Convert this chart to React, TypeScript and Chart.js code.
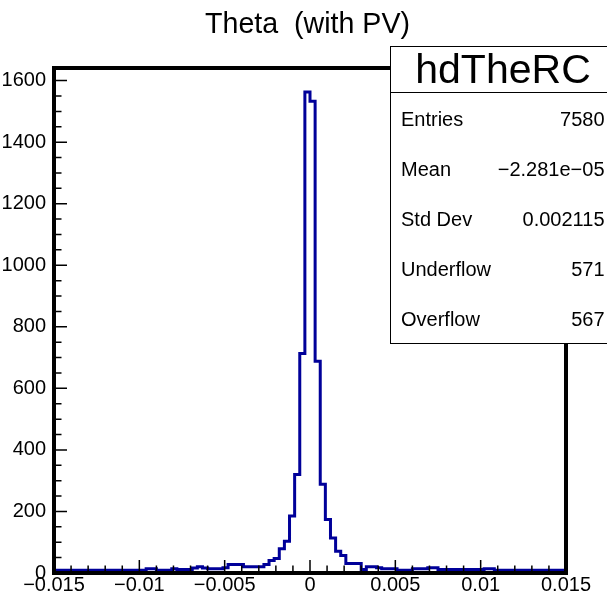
import React, { useEffect, useRef } from "react";
import { Chart, registerables } from "chart.js";

Chart.register(...registerables);

// ---- data ----
const X_MIN = -0.015;
const X_MAX = 0.015;
const BIN_WIDTH = 0.0003;
const Y_MAX = 1641;

const binCounts: number[] = [
  9, 9, 9, 9, 9, 9, 9, 9, 9, 9,
  9, 9, 9, 9, 9, 9, 9, 9, 14, 14,
  9, 9, 9, 14, 11, 11, 11, 16, 20, 16,
  14, 14, 14, 17, 28, 28, 28, 20, 20, 20,
  20, 28, 41, 47, 79, 103, 185, 320, 713, 1563,
  1533, 688, 288, 174, 114, 71, 57, 31, 31, 31,
  11, 20, 20, 17, 14, 14, 14, 9, 9, 9,
  14, 14, 14, 17, 17, 11, 11, 11, 11, 11,
  11, 11, 11, 11, 14, 14, 9, 9, 9, 9,
  9, 9, 9, 9, 9, 9, 9, 9, 9, 9,
];

const xTickValues: number[] = [-0.015, -0.01, -0.005, 0, 0.005, 0.01, 0.015];
const xTickLabels: string[] = ["\u22120.015", "\u22120.01", "\u22120.005", "0", "0.005", "0.01", "0.015"];
const yTickValues: number[] = [0, 200, 400, 600, 800, 1000, 1200, 1400, 1600];
const yTickLabels: string[] = ["0", "200", "400", "600", "800", "1000", "1200", "1400", "1600"];

const titleText = "Theta  (with PV)";
const statsName = "hdTheRC";
const statsLabels: string[] = ["Entries", "Mean", "Std Dev", "Underflow", "Overflow"];
const statsValues: string[] = ["7580", "\u22122.281e\u221205", "0.002115", "571", "567"];

const FONT = '"Liberation Sans", Arial, Helvetica, sans-serif';

const rootPlugin = {
  id: "rootStyle",
  afterDatasetsDraw(chart: any) {
    const ctx = chart.ctx as CanvasRenderingContext2D;
    const xs = chart.scales.x;
    const ys = chart.scales.y;
    const L = xs.getPixelForValue(X_MIN);
    const R = xs.getPixelForValue(X_MAX);
    const B = ys.getPixelForValue(0);
    const T = ys.getPixelForValue(Y_MAX);
    ctx.save();
    // ticks
    ctx.strokeStyle = "#000";
    ctx.lineWidth = 1.5;
    ctx.beginPath();
    for (let i = 0; i <= 30; i++) {
      const v = X_MIN + i * 0.001;
      const px = xs.getPixelForValue(v);
      const len = i % 5 === 0 ? 13 : 7.5;
      ctx.moveTo(px, B);
      ctx.lineTo(px, B - len);
    }
    for (let v = 0; v <= Y_MAX; v += 50) {
      const py = ys.getPixelForValue(v);
      const len = v % 200 === 0 ? 13 : 7.5;
      ctx.moveTo(L, py);
      ctx.lineTo(L + len, py);
    }
    ctx.stroke();
    // frame
    ctx.lineWidth = 4;
    ctx.strokeRect(L, T, R - L, B - T);
    // title
    ctx.fillStyle = "#000";
    ctx.font = `28.6px ${FONT}`;
    ctx.textAlign = "center";
    ctx.textBaseline = "alphabetic";
    ctx.fillText(titleText, 307.5, 33);
    // stats box
    const bx = 390.5, by = 46.5, bw = 230, bh = 297;
    ctx.fillStyle = "#fff";
    ctx.fillRect(bx, by, bw, bh);
    ctx.strokeStyle = "#000";
    ctx.lineWidth = 1;
    ctx.strokeRect(bx, by, bw, bh);
    ctx.beginPath();
    ctx.moveTo(bx, 92.5);
    ctx.lineTo(bx + bw, 92.5);
    ctx.stroke();
    ctx.fillStyle = "#000";
    ctx.font = `41px ${FONT}`;
    ctx.textAlign = "center";
    ctx.fillText(statsName, 503, 83);
    ctx.font = `20px ${FONT}`;
    for (let i = 0; i < statsLabels.length; i++) {
      const yb = 126 + i * 50;
      ctx.textAlign = "left";
      ctx.fillText(statsLabels[i], 401, yb);
      ctx.textAlign = "right";
      ctx.fillText(statsValues[i], 604.5, yb);
    }
    ctx.restore();
  },
};

export default function App() {
  const ref = useRef<HTMLCanvasElement | null>(null);
  useEffect(() => {
    document.body.style.margin = "0";
    const points = binCounts.map((c, i) => ({ x: X_MIN + i * BIN_WIDTH, y: c }));
    points.push({ x: X_MAX, y: binCounts[binCounts.length - 1] });
    const chart = new Chart(ref.current as HTMLCanvasElement, {
      type: "line",
      data: {
        datasets: [
          {
            data: points,
            borderColor: "#000099",
            borderWidth: 3,
            stepped: "before",
            pointRadius: 0,
            fill: false,
            tension: 0,
          },
        ],
      },
      options: {
        responsive: false,
        animation: false,
        devicePixelRatio: 1,
        layout: { padding: { left: 0, right: 41, top: 68, bottom: 0 } },
        plugins: { legend: { display: false }, tooltip: { enabled: false }, title: { display: false } },
        scales: {
          x: {
            type: "linear",
            min: X_MIN,
            max: X_MAX,
            grid: { display: false, drawTicks: false },
            border: { display: false },
            afterFit: (s: any) => { s.height = 24; },
            afterBuildTicks: (s: any) => { s.ticks = xTickValues.map((v) => ({ value: v })); },
            ticks: {
              autoSkip: false,
              maxRotation: 0,
              padding: 0,
              color: "#000",
              font: { family: FONT, size: 20 },
              callback: (_v: any, i: number) => xTickLabels[i],
            },
          },
          y: {
            type: "linear",
            min: 0,
            max: Y_MAX,
            grid: { display: false, drawTicks: false },
            border: { display: false },
            afterFit: (s: any) => { s.width = 54; },
            afterBuildTicks: (s: any) => { s.ticks = yTickValues.map((v) => ({ value: v })); },
            ticks: {
              autoSkip: false,
              padding: 8,
              color: "#000",
              font: { family: FONT, size: 20 },
              callback: (_v: any, i: number) => yTickLabels[i],
            },
          },
        },
      },
      plugins: [rootPlugin],
    } as any);
    return () => chart.destroy();
  }, []);
  return (
    <canvas ref={ref} width={607} height={597} style={{ display: "block", width: 607, height: 597 }} />
  );
}
